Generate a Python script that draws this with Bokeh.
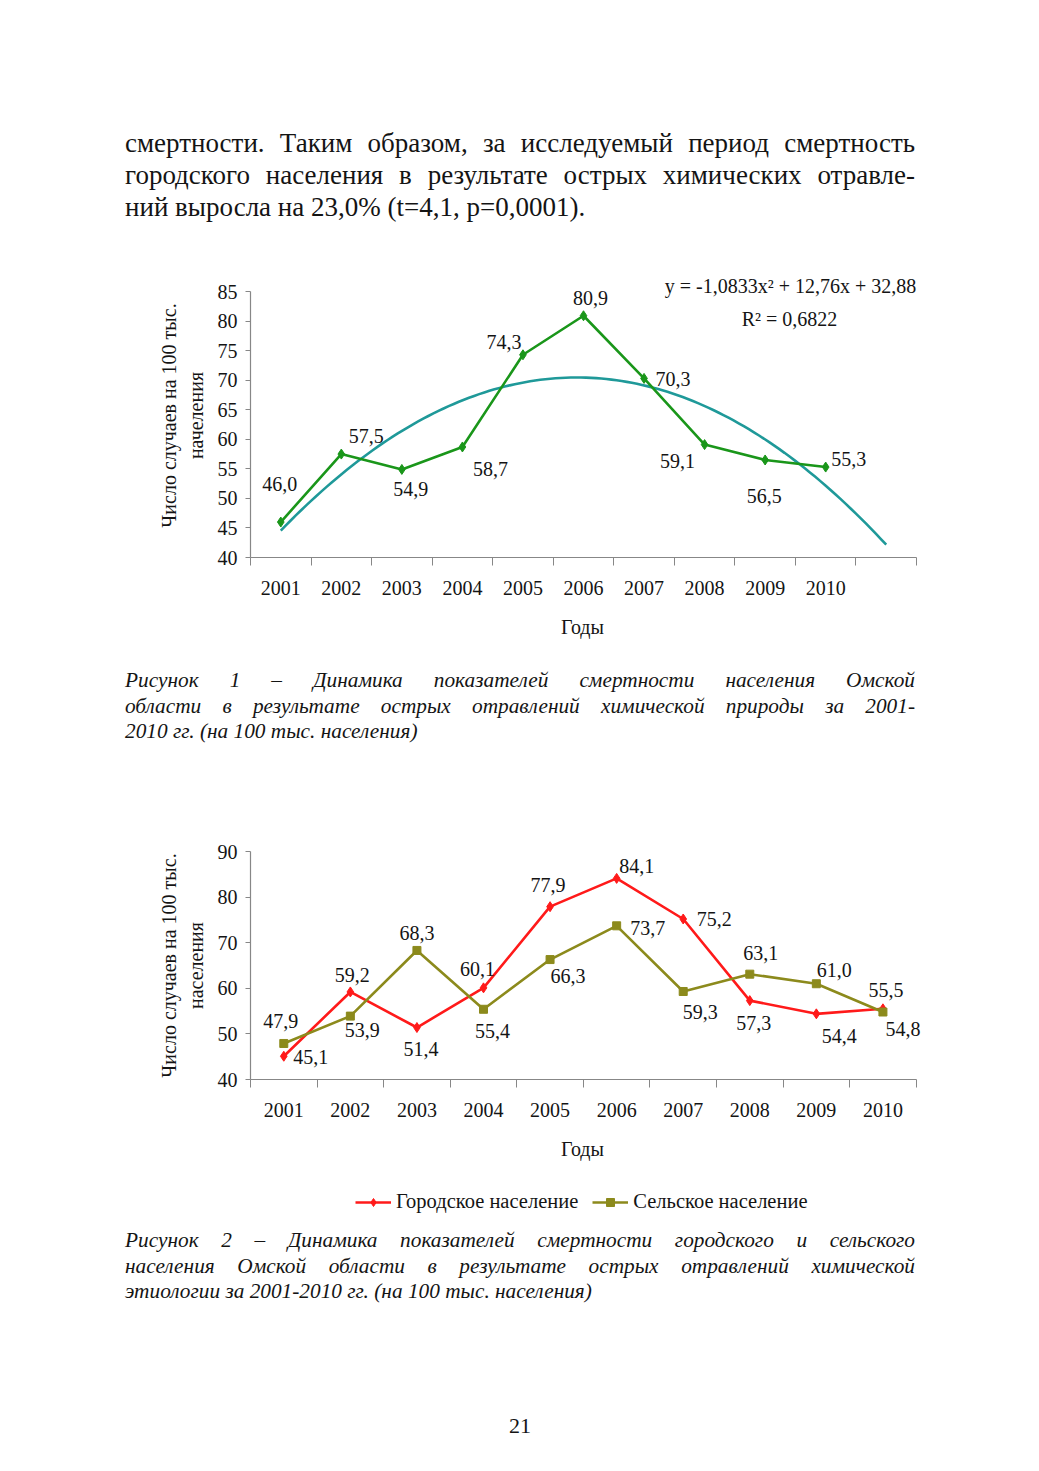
import numpy as np
from bokeh.plotting import figure
from bokeh.models import ColumnDataSource, FixedTicker, Label, Legend, LegendItem, Div, Range1d
from bokeh.layouts import column
from bokeh.embed import file_html
from bokeh.resources import INLINE
from bokeh.core.properties import value

# ---------------- data ----------------
YEARS = ["2001", "2002", "2003", "2004", "2005", "2006", "2007", "2008", "2009", "2010"]
TOTAL = [46.0, 57.5, 54.9, 58.7, 74.3, 80.9, 70.3, 59.1, 56.5, 55.3]
TREND_COEF = [-1.0833, 12.76, 32.88]       # y = a x^2 + b x + c (from the chart)
TREND_SPAN = [1, 11]                       # trend drawn over categories 1..11
URBAN = [45.1, 59.2, 51.4, 60.1, 77.9, 84.1, 75.2, 57.3, 54.4, 55.5]
RURAL = [47.9, 53.9, 68.3, 55.4, 66.3, 73.7, 59.3, 63.1, 61.0, 54.8]
Y1_TICKS = [40, 45, 50, 55, 60, 65, 70, 75, 80, 85]
Y2_TICKS = [40, 50, 60, 70, 80, 90]
EQ_TEXT = "y = -1,0833x² + 12,76x + 32,88"
R2_TEXT = "R² = 0,6822"
Y1_TITLE = "Число случаев на 100 тыс.\nначеления"
Y2_TITLE = "Число случаев на 100 тыс.\nнаселения"
X_TITLE = "Годы"
LEG_URBAN = "Городское население"
LEG_RURAL = "Сельское население"

# label offsets (layout only, px; +dy = down)
OFF_TOTAL = [(-1, -38), (25, -18), (9, 20), (28, 22), (-19, -13), (7, -18), (29, 1), (-27, 16), (-1, 36), (23, -8)]
OFF_URBAN = [(27, 1), (2, -17), (4, 21), (-6, -19), (-2, -22), (20, -12), (31, 0), (4, 22), (23, 22), (3, -19)]
OFF_RURAL = [(-3, -22), (12, 14), (0, -17), (9, 22), (18, 16), (31, 2), (17, 21), (11, -21), (18, -14), (20, 17)]

FONT = "Liberation Serif"
TXT = "#141414"
AX = "#878787"
GREEN = "#1a961a"
TEAL = "#1f9999"
RED = "#ff1a1a"
OLIVE = "#8c8a1c"
PAD = "\u00a0" * 7   # shifts the centred x-axis title to the centre of the axis line


def fmt(v):
    return f"{v:.1f}".replace(".", ",")


def style(p, n_cats, yticks, ytitle):
    p.grid.visible = False
    p.outline_line_color = None
    p.background_fill_color = None
    p.border_fill_color = None
    xa = p.xaxis[0]
    xa.ticker = FixedTicker(ticks=list(range(1, len(YEARS) + 1)),
                            minor_ticks=[i + 0.5 for i in range(0, n_cats + 1)])
    xa.bounds = (0.5, n_cats + 0.5)
    xa.major_label_overrides = {i + 1: y for i, y in enumerate(YEARS)}
    xa.major_tick_out = 0
    xa.major_tick_in = 0
    xa.minor_tick_out = 8
    xa.minor_tick_in = 0
    xa.minor_tick_line_color = AX
    xa.axis_line_color = AX
    xa.major_label_standoff = 15
    xa.axis_label = X_TITLE + PAD
    xa.axis_label_standoff = 18
    ya = p.yaxis[0]
    ya.ticker = FixedTicker(ticks=yticks)
    ya.bounds = (yticks[0], yticks[-1])
    ya.major_tick_out = 5
    ya.major_tick_in = 0
    ya.minor_tick_out = 0
    ya.minor_tick_in = 0
    ya.major_tick_line_color = AX
    ya.axis_line_color = AX
    ya.major_label_standoff = 8
    ya.axis_label = ytitle
    ya.axis_label_standoff = 8
    for a in (xa, ya):
        a.major_label_text_font = FONT
        a.major_label_text_font_size = "20px"
        a.major_label_text_color = TXT
        a.axis_label_text_font = FONT
        a.axis_label_text_font_size = "20px"
        a.axis_label_text_font_style = "normal"
        a.axis_label_text_color = TXT
        a.axis_line_width = 1.2


def labels(p, xs, vals, offs):
    src = ColumnDataSource(dict(x=xs, y=vals, t=[fmt(v) for v in vals],
                                dx=[o[0] for o in offs], dy=[o[1] for o in offs]))
    p.text(x="x", y="y", text="t", x_offset="dx", y_offset="dy", source=src,
           text_font=value(FONT), text_font_size="20px", text_color=TXT,
           text_align="center", text_baseline="middle")


def series(p, vals, color, marker, size):
    ln = p.line(xs, vals, line_color=color, line_width=2.6)
    sc = p.scatter(xs, vals, marker=marker, size=size, fill_color=color, line_color=color)
    return ln, sc


xs = list(range(1, len(YEARS) + 1))

# ---------------- figure 1 ----------------
# frame 699 px wide (aligned with figure 2); axis line covers the 11 category slots
p1 = figure(width=1031, height=390, min_border_left=250, min_border_right=82,
            min_border_top=13, min_border_bottom=93, x_range=Range1d(0.5, 0.5 + 11 * 699 / 666),
            y_range=Range1d(40, 88.05), output_backend="svg",
            toolbar_location=None, margin=0)
style(p1, 11, Y1_TICKS, Y1_TITLE)
tx = np.linspace(TREND_SPAN[0], TREND_SPAN[1], 120)
ty = np.polyval(TREND_COEF, tx)
p1.line(tx, ty, line_color=TEAL, line_width=2.6)
series(p1, TOTAL, GREEN, "diamond", 10)
labels(p1, xs, TOTAL, OFF_TOTAL)
p1.add_layout(Label(x=540, y=272, x_units="screen", y_units="screen", text=EQ_TEXT,
                    text_font=FONT, text_font_size="20px", text_color=TXT,
                    text_align="center", text_baseline="middle"))
p1.add_layout(Label(x=539, y=239, x_units="screen", y_units="screen", text=R2_TEXT,
                    text_font=FONT, text_font_size="20px", text_color=TXT,
                    text_align="center", text_baseline="middle"))

# ---------------- figure 2 ----------------
p2 = figure(width=1031, height=351, min_border_left=250, min_border_right=82,
            min_border_top=23, min_border_bottom=100, x_range=Range1d(0.5, 11.0),
            y_range=Range1d(Y2_TICKS[0], Y2_TICKS[-1]), output_backend="svg",
            toolbar_location=None, margin=0)
style(p2, 10, Y2_TICKS, Y2_TITLE)
series(p2, URBAN, RED, "diamond", 10)
series(p2, RURAL, OLIVE, "square", 8)
labels(p2, xs, URBAN, OFF_URBAN)
labels(p2, xs, RURAL, OFF_RURAL)

# legend strip for figure 2 (same series, drawn outside its visible range)
pl = figure(width=1031, height=49, min_border_left=250, min_border_right=82,
            x_range=Range1d(-20, -19), y_range=Range1d(0, 1),
            x_axis_type=None, y_axis_type=None, min_border_top=0, min_border_bottom=0,
            output_backend="svg", toolbar_location=None, margin=0)
pl.grid.visible = False
pl.outline_line_color = None
pl.background_fill_color = None
pl.border_fill_color = None
lu, su = series(pl, URBAN, RED, "diamond", 10)
lr, sr = series(pl, RURAL, OLIVE, "square", 8)
leg = Legend(items=[LegendItem(label=LEG_URBAN, renderers=[lu, su]),
                    LegendItem(label=LEG_RURAL, renderers=[lr, sr])],
             orientation="horizontal", location=(105, 15), glyph_width=36, glyph_height=20,
             label_standoff=5, spacing=14, padding=0, margin=0,
             border_line_alpha=0, background_fill_alpha=0,
             label_text_font=FONT, label_text_font_size="20.5px", label_text_color=TXT)
pl.add_layout(leg, "center")

# ---------------- text blocks ----------------
BASE = f"font-family:'{FONT}',serif;color:{TXT};"


def lines_html(lines, size, lh, italic):
    st = "font-style:italic;" if italic else ""
    out = ""
    for i, ln in enumerate(lines):
        if i == len(lines) - 1:
            out += f'<div style="text-align:left;white-space:nowrap;">{ln}</div>'
        else:
            out += f'<div style="text-align:justify;text-align-last:justify;white-space:nowrap;">{ln}</div>'
    return f'<div style="{BASE}font-size:{size}px;line-height:{lh}px;{st}width:790px;">{out}</div>'


TOP_LINES = ["смертности. Таким образом, за исследуемый период смертность",
             "городского населения в результате острых химических отравле-",
             "ний выросла на 23,0% (t=4,1, p=0,0001)."]
CAP1 = ["Рисунок 1 – Динамика показателей смертности населения Омской",
        "области в результате острых отравлений химической природы за 2001-",
        "2010 гг. (на 100 тыс. населения)"]
CAP2 = ["Рисунок 2 – Динамика показателей смертности городского и сельского",
        "населения Омской области в результате острых отравлений химической",
        "этиологии за 2001-2010 гг. (на 100 тыс. населения)"]
PAGE = "21"

d_top = Div(text=f'<div style="padding-left:125px;padding-top:127px;">{lines_html(TOP_LINES, 27, 32, False)}</div>',
            width=1031, height=260, margin=0)
d_c1 = Div(text=f'<div style="padding-left:125px;padding-top:18px;">{lines_html(CAP1, 21.3, 25.5, True)}</div>',
           width=1031, height=178, margin=0)
d_c2 = Div(text=(f'<div style="padding-left:125px;padding-top:0px;">{lines_html(CAP2, 21.3, 25.5, True)}'
                 f'<div style="{BASE}width:790px;text-align:center;font-size:22px;line-height:26px;margin-top:108px;">{PAGE}</div></div>'),
           width=1031, height=243, margin=0)

page = column(d_top, p1, d_c1, p2, pl, d_c2, spacing=0, margin=0)
open("out.html", "w").write(file_html(page, INLINE))
